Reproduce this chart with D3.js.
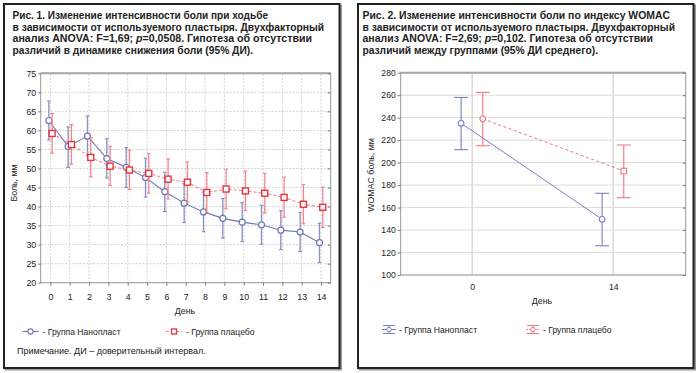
<!DOCTYPE html>
<html><head><meta charset="utf-8">
<script src="https://cdn.jsdelivr.net/npm/d3@7"></script>
<style>html,body{margin:0;padding:0;background:#fff;}svg{display:block;font-family:"Liberation Sans",Arial,sans-serif;}</style>
</head><body>
<script>
// ---------- DATA ----------
const days = [0,1,2,3,4,5,6,7,8,9,10,11,12,13,14];
const nanoMean = [62.6,55.8,58.5,52.6,50.3,47.6,43.9,40.9,38.6,36.9,35.9,35.2,33.8,33.3,30.5];
const nanoLow  = [57.5,50.3,53.3,47.5,45.0,42.5,38.7,35.8,33.4,31.7,30.8,30.1,28.7,28.2,25.3];
const nanoHigh = [67.7,60.9,63.8,57.8,55.5,52.7,49.0,46.0,43.8,42.1,41.0,40.3,38.9,38.4,35.6];
const placMean = [59.2,56.3,52.9,50.6,49.6,48.7,47.2,46.4,43.7,44.6,44.1,43.5,42.4,40.6,39.8];
const placLow  = [54.0,51.1,47.8,45.5,44.5,43.5,42.0,41.2,38.6,39.4,39.0,38.3,37.2,35.5,34.5];
const placHigh = [64.4,61.5,58.1,55.8,54.8,53.9,52.5,51.7,48.9,49.8,49.3,48.7,47.7,45.8,45.1];
const yTicks1 = [20,25,30,35,40,45,50,55,60,65,70,75];

const womacDays = [0,14];
const nanoWomacMean = [235,149.6];
const nanoWomacLow  = [211.5,126];
const nanoWomacHigh = [258,172.7];
const placWomacMean = [239,192.5];
const placWomacLow  = [215,168.8];
const placWomacHigh = [262.5,215.7];
const yTicks2 = [100,120,140,160,180,200,220,240,260,280];

const title1 = ["Рис. 1. Изменение интенсивности боли при ходьбе",
  "в зависимости от используемого пластыря. Двухфакторный",
  ["анализ ANOVA: F=1,69; ", "p", "=0,0508. Гипотеза об отсутствии"],
  "различий в динамике снижения боли (95% ДИ)."];
const title2 = ["Рис. 2. Изменение интенсивности боли по индексу WOMAC",
  "в зависимости от используемого пластыря. Двухфакторный",
  ["анализ ANOVA: F=2,69; ", "p", "=0,102. Гипотеза об отсутствии"],
  "различий между группами (95% ДИ среднего)."];
const legendNames = ["- Группа Нанопласт", "- Группа плацебо"];
const xLabel = "День";
const yLabel1 = "Боль, мм";
const yLabel2 = "WOMAC боль, мм";
const note = "Примечание. ДИ – доверительный интервал.";

// ---------- STYLE ----------
const BLUE = "#6f77b6", BLUE_E = "#8a90c6", RED = "#e3343f", RED_E = "#f3848e";

const svg = d3.select("body").append("svg").attr("width",700).attr("height",373);

function panel(x0,x1){
  svg.append("rect").attr("x",x0+1.5).attr("y",5.5).attr("width",x1-x0).attr("height",364)
    .attr("fill","none").attr("stroke","#9a9a9a").attr("stroke-width",2);
  svg.append("rect").attr("x",x0).attr("y",4).attr("width",x1-x0).attr("height",364)
    .attr("fill","#fff").attr("stroke","#222").attr("stroke-width",2);
}
panel(4,339.5);
panel(358,693.5);

function drawTitle(lines, x, widths){
  lines.forEach((ln,i)=>{
    const t = svg.append("text").attr("x",x).attr("y",19+i*11.7)
      .attr("font-size",10.3).attr("font-weight","bold").attr("fill","#222")
      .attr("textLength",widths[i]).attr("lengthAdjust","spacingAndGlyphs");
    if (Array.isArray(ln)) {
      t.append("tspan").text(ln[0]);
      t.append("tspan").attr("font-style","italic").text(ln[1]);
      t.append("tspan").text(ln[2]);
    } else t.text(ln);
  });
}
drawTitle(title1, 12.5, [255.5, 311.5, 299.5, 240.5]);
drawTitle(title2, 362.5, [307.5, 312.5, 290.5, 235.5]);

// ---------- CHART 1 ----------
const x1 = d3.scaleLinear().domain([-0.5,14.5]).range([40.7,330.7]);
const y1 = d3.scaleLinear().domain([20,75]).range([282.7,73.3]);
const g1 = svg.append("g");
g1.selectAll(".hg").data(yTicks1).join("line")
  .attr("x1",x1.range()[0]).attr("x2",x1.range()[1]).attr("y1",d=>y1(d)).attr("y2",d=>y1(d))
  .attr("stroke","#c8c8c8").attr("stroke-width",0.8).attr("stroke-dasharray","2,1.5");
g1.selectAll(".vg").data(days).join("line")
  .attr("x1",d=>x1(d)).attr("x2",d=>x1(d)).attr("y1",y1.range()[0]).attr("y2",y1.range()[1])
  .attr("stroke","#c8c8c8").attr("stroke-width",0.8).attr("stroke-dasharray","2,1.5");
g1.append("rect").attr("x",x1.range()[0]).attr("y",y1.range()[1])
  .attr("width",x1.range()[1]-x1.range()[0]).attr("height",y1.range()[0]-y1.range()[1])
  .attr("fill","none").attr("stroke","#9a9a9a").attr("stroke-width",1);
g1.append("line").attr("x1",x1.range()[0]).attr("x2",x1.range()[1]).attr("y1",y1.range()[1]).attr("y2",y1.range()[1])
  .attr("stroke","#a8a8a8").attr("stroke-width",2);
const ax1 = g1.append("g").attr("transform",`translate(${x1.range()[0]},0)`)
  .call(d3.axisLeft(y1).tickValues(yTicks1).tickSize(2.5).tickPadding(2));
const bx1 = g1.append("g").attr("transform",`translate(0,${y1.range()[0]})`)
  .call(d3.axisBottom(x1).tickValues(days).tickSize(3).tickPadding(8));
const rx1 = g1.append("g").attr("transform",`translate(${x1.range()[1]},0)`)
  .call(d3.axisLeft(y1).tickValues(yTicks1).tickSize(3).tickFormat(""));
[ax1,bx1,rx1].forEach(a=>{a.select(".domain").remove();a.selectAll("line").attr("stroke","#777");
  a.selectAll("text").attr("font-size",8.8).attr("fill","#222").attr("font-family","Liberation Sans, Arial, sans-serif");});
rx1.selectAll("line").attr("x2",-3);
function series1(mean,low,high,off,lineCol,errCol,dash,marker){
  const g = g1.append("g");
  const pts = days.map((d,i)=>({x:x1(d+off),m:y1(mean[i]),l:y1(low[i]),h:y1(high[i])}));
  g.selectAll(".eb").data(pts).join("line").attr("x1",p=>p.x).attr("x2",p=>p.x)
    .attr("y1",p=>p.l).attr("y2",p=>p.h).attr("stroke",errCol).attr("stroke-width",1.3);
  ["l","h"].forEach(k=>g.selectAll(".c"+k).data(pts).join("line")
    .attr("x1",p=>p.x-1.8).attr("x2",p=>p.x+1.8).attr("y1",p=>p[k]).attr("y2",p=>p[k])
    .attr("stroke",errCol).attr("stroke-width",1.2));
  g.append("path").datum(pts).attr("d",d3.line().x(p=>p.x).y(p=>p.m))
    .attr("fill","none").attr("stroke",marker==="circle"?lineCol:RED_E).attr("stroke-width",1.1).attr("stroke-dasharray",dash);
  if (marker==="circle") g.selectAll(".mk").data(pts).join("circle").attr("cx",p=>p.x).attr("cy",p=>p.m).attr("r",3)
    .attr("fill","#fff").attr("stroke",lineCol).attr("stroke-width",1.2);
  else g.selectAll(".mk").data(pts).join("rect").attr("x",p=>p.x-3).attr("y",p=>p.m-3).attr("width",6).attr("height",6)
    .attr("fill","#fff").attr("stroke",lineCol).attr("stroke-width",1.4);
}
series1(nanoMean,nanoLow,nanoHigh,-0.08,BLUE,BLUE_E,null,"circle");
series1(placMean,placLow,placHigh,0.09,RED,RED_E,"3,2","square");
svg.append("text").attr("x",185).attr("y",313.5).attr("text-anchor","middle").attr("font-size",8.8).attr("fill","#222").text(xLabel);
svg.append("text").attr("transform","translate(16.5,183) rotate(-90)").attr("text-anchor","middle").attr("font-size",8.8).attr("fill","#222").text(yLabel1);
function leg1(x,y,col,dash,marker,name){
  svg.append("line").attr("x1",x).attr("x2",x+16).attr("y1",y).attr("y2",y).attr("stroke",marker==="circle"?col:RED_E).attr("stroke-width",1.1).attr("stroke-dasharray",dash);
  if(marker==="circle") svg.append("circle").attr("cx",x+8).attr("cy",y).attr("r",2.6).attr("fill","#fff").attr("stroke",col).attr("stroke-width",1.1);
  else svg.append("rect").attr("x",x+5.5).attr("y",y-2.5).attr("width",5).attr("height",5).attr("fill","#fff").attr("stroke",col).attr("stroke-width",1.3);
  svg.append("text").attr("x",x+20).attr("y",y+3).attr("font-size",8.6).attr("fill","#222").text(name);
}
leg1(22.5,331.5,BLUE,null,"circle",legendNames[0]);
leg1(166,331.5,RED,"3,2","square",legendNames[1]);
svg.append("text").attr("x",17).attr("y",354).attr("font-size",9).attr("fill","#222").text(note);

// ---------- CHART 2 ----------
const x2 = d3.scaleLinear().domain([-7.1,21.2]).range([400.7,685.7]);
const y2 = d3.scaleLinear().domain([100,280]).range([275,72.7]);
const g2 = svg.append("g");
g2.selectAll(".hg").data(yTicks2).join("line")
  .attr("x1",x2.range()[0]).attr("x2",x2.range()[1]).attr("y1",d=>y2(d)).attr("y2",d=>y2(d))
  .attr("stroke","#dcdcdc").attr("stroke-width",1);
g2.selectAll(".vg").data(womacDays).join("line")
  .attr("x1",d=>x2(d)).attr("x2",d=>x2(d)).attr("y1",y2.range()[0]).attr("y2",y2.range()[1])
  .attr("stroke","#dcdcdc").attr("stroke-width",1.6);
g2.append("rect").attr("x",x2.range()[0]).attr("y",y2.range()[1])
  .attr("width",x2.range()[1]-x2.range()[0]).attr("height",y2.range()[0]-y2.range()[1])
  .attr("fill","none").attr("stroke","#9a9a9a").attr("stroke-width",1);
g2.append("line").attr("x1",x2.range()[0]).attr("x2",x2.range()[1]).attr("y1",y2.range()[1]).attr("y2",y2.range()[1])
  .attr("stroke","#a8a8a8").attr("stroke-width",2);
const ax2 = g2.append("g").attr("transform",`translate(${x2.range()[0]},0)`)
  .call(d3.axisLeft(y2).tickValues(yTicks2).tickSize(3).tickPadding(2));
const bx2 = g2.append("g").attr("transform",`translate(0,${y2.range()[0]})`)
  .call(d3.axisBottom(x2).tickValues(womacDays).tickSize(0).tickPadding(9));
const rx2 = g2.append("g").attr("transform",`translate(${x2.range()[1]},0)`)
  .call(d3.axisLeft(y2).tickValues(yTicks2).tickSize(3).tickFormat(""));
[ax2,bx2,rx2].forEach(a=>{a.select(".domain").remove();a.selectAll("line").attr("stroke","#777");
  a.selectAll("text").attr("font-size",8.6).attr("fill","#222").attr("font-family","Liberation Sans, Arial, sans-serif");});
rx2.selectAll("line").attr("x2",-3);
function series2(mean,low,high,off,lineCol,dash,markers){
  const g = g2.append("g");
  const pts = womacDays.map((d,i)=>({x:x2(d+off),m:y2(mean[i]),l:y2(low[i]),h:y2(high[i]),mk:markers[i]}));
  g.append("path").datum(pts).attr("d",d3.line().x(p=>p.x).y(p=>p.m))
    .attr("fill","none").attr("stroke",lineCol).attr("stroke-width",1).attr("stroke-dasharray",dash);
  g.selectAll(".eb").data(pts).join("line").attr("x1",p=>p.x).attr("x2",p=>p.x)
    .attr("y1",p=>p.l).attr("y2",p=>p.h).attr("stroke",lineCol).attr("stroke-width",1.1);
  ["l","h"].forEach(k=>g.selectAll(".c"+k).data(pts).join("line")
    .attr("x1",p=>p.x-7).attr("x2",p=>p.x+7).attr("y1",p=>p[k]).attr("y2",p=>p[k])
    .attr("stroke",lineCol).attr("stroke-width",1.1));
  pts.forEach(p=>{
    if(p.mk==="circle") g.append("circle").attr("cx",p.x).attr("cy",p.m).attr("r",2.8).attr("fill","#fff").attr("stroke",lineCol).attr("stroke-width",1.1);
    else g.append("rect").attr("x",p.x-2.8).attr("y",p.m-2.8).attr("width",5.6).attr("height",5.6).attr("fill","#fff").attr("stroke",lineCol).attr("stroke-width",1.1);
  });
}
series2(nanoWomacMean,nanoWomacLow,nanoWomacHigh,-1.1,"#7a80c0",null,["circle","circle"]);
series2(placWomacMean,placWomacLow,placWomacHigh,1.05,"#f07682","3,2.5",["circle","square"]);
svg.append("text").attr("x",542).attr("y",303.5).attr("text-anchor","middle").attr("font-size",8.8).attr("fill","#222").text(xLabel);
svg.append("text").attr("transform","translate(374,175) rotate(-90)").attr("text-anchor","middle").attr("font-size",8.8).attr("fill","#222").text(yLabel2);
function leg2(x,y,col,dash,name){
  svg.append("line").attr("x1",x).attr("x2",x+14).attr("y1",y).attr("y2",y).attr("stroke",col).attr("stroke-width",1).attr("stroke-dasharray",dash);
  svg.append("line").attr("x1",x+7).attr("x2",x+7).attr("y1",y-4).attr("y2",y+4).attr("stroke",col).attr("stroke-width",1);
  [y-4,y+4].forEach(yy=>svg.append("line").attr("x1",x+1).attr("x2",x+13).attr("y1",yy).attr("y2",yy).attr("stroke",col).attr("stroke-width",1));
  svg.append("circle").attr("cx",x+7).attr("cy",y).attr("r",2.2).attr("fill","#fff").attr("stroke",col).attr("stroke-width",1);
  svg.append("text").attr("x",x+17).attr("y",y+3).attr("font-size",8.6).attr("fill","#222").text(name);
}
leg2(382,329.5,"#7a80c0",null,legendNames[0]);
leg2(526,329.5,"#f07682","2,1.5",legendNames[1]);
</script>
</body></html>
